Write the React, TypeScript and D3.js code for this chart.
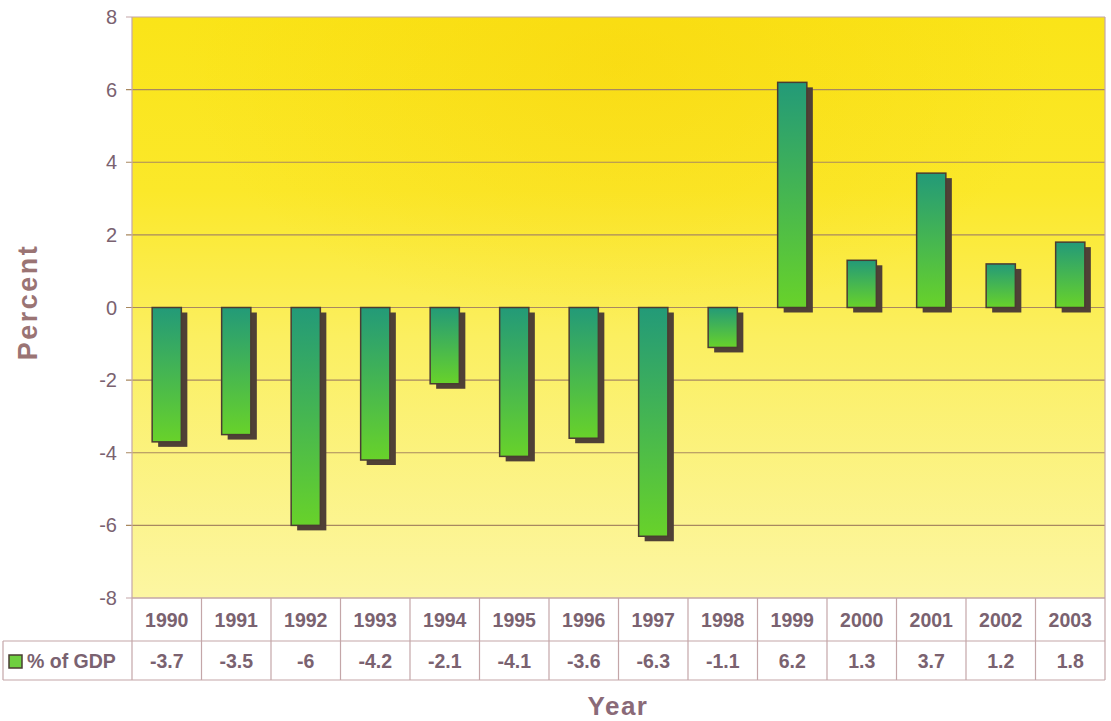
import React from "react";
import * as d3 from "d3";

const years = ["1990","1991","1992","1993","1994","1995","1996","1997","1998","1999","2000","2001","2002","2003"];
const values = [-3.7,-3.5,-6,-4.2,-2.1,-4.1,-3.6,-6.3,-1.1,6.2,1.3,3.7,1.2,1.8];
const valueLabels = ["-3.7","-3.5","-6","-4.2","-2.1","-4.1","-3.6","-6.3","-1.1","6.2","1.3","3.7","1.2","1.8"];
const yTicks = [-8,-6,-4,-2,0,2,4,6,8];
const seriesName = "% of GDP";

const W = 1111, H = 721;
const left = 132, right = 1105, top = 17, bottom = 598;
const tableRow1 = 641, tableRow2 = 680, tableLeft = 3;
const textCol = "#7a6270";
const lineCol = "#c4a6a8";
const font = "'Liberation Sans', Arial, sans-serif";

export default function App() {
  const x = d3.scaleBand<string>().domain(years).range([left, right]).paddingInner(0.58).paddingOuter(0.29);
  const xb = d3.scaleBand<string>().domain(years).range([left, right]);
  const y = d3.scaleLinear().domain([-8, 8]).range([bottom, top]);
  const sh = 5;
  return (
    <svg width={W} height={H} style={{ position: "absolute", left: 0, top: 0, background: "#fff" }}>
      <defs>
        <linearGradient id="bg" x1="0" y1="0" x2="0" y2="1">
          <stop offset="0" stopColor="#fae418" />
          <stop offset="0.3" stopColor="#fbe82a" />
          <stop offset="0.55" stopColor="#fbef60" />
          <stop offset="1" stopColor="#fcf6a2" />
        </linearGradient>
        <radialGradient id="bgr" cx="0.5" cy="0.08" r="0.45">
          <stop offset="0" stopColor="#f6c800" stopOpacity="0.3" />
          <stop offset="1" stopColor="#f6c800" stopOpacity="0" />
        </radialGradient>
        <linearGradient id="bar" x1="0" y1="0" x2="0" y2="1">
          <stop offset="0" stopColor="#239a78" />
          <stop offset="1" stopColor="#68d22a" />
        </linearGradient>
      </defs>
      <rect x={left} y={top} width={right - left} height={bottom - top} fill="url(#bg)" />
      <rect x={left} y={top} width={right - left} height={bottom - top} fill="url(#bgr)" />
      {yTicks.map((t) => (
        <g key={t}>
          <line x1={left - 6} x2={right} y1={y(t)} y2={y(t)} stroke={t === -8 || t === 8 ? lineCol : "#a88860"} strokeWidth={1.2} />
          <text x={left - 15} y={y(t)} dy="0.35em" textAnchor="end" fontFamily={font} fontSize={20} fill={textCol}>{t}</text>
        </g>
      ))}
      <line x1={left} x2={left} y1={top} y2={bottom} stroke={lineCol} strokeWidth={1.2} />
      <line x1={right} x2={right} y1={top} y2={bottom} stroke={lineCol} strokeWidth={1.2} />
      {years.map((yr, i) => {
        const v = values[i];
        const bx = x(yr)!;
        const bw = x.bandwidth();
        const y0 = y(Math.max(0, v));
        const h = Math.abs(y(v) - y(0));
        return (
          <g key={yr}>
            <rect x={bx + sh + 1} y={y0 + sh} width={bw} height={h} fill="#4f4036" />
            <rect x={bx} y={y0} width={bw} height={h} fill="url(#bar)" stroke="#4a3c32" strokeWidth={1.5} />
          </g>
        );
      })}
      {/* data table */}
      <line x1={left} x2={right} y1={bottom} y2={bottom} stroke={lineCol} strokeWidth={1.2} />
      <line x1={tableLeft} x2={right} y1={tableRow1} y2={tableRow1} stroke={lineCol} strokeWidth={1.2} />
      <line x1={tableLeft} x2={right} y1={tableRow2} y2={tableRow2} stroke={lineCol} strokeWidth={1.2} />
      <line x1={tableLeft} x2={tableLeft} y1={tableRow1} y2={tableRow2} stroke={lineCol} strokeWidth={1.2} />
      {years.map((yr) => (
        <line key={"d" + yr} x1={xb(yr)! + xb.bandwidth()} x2={xb(yr)! + xb.bandwidth()} y1={bottom} y2={tableRow2} stroke={lineCol} strokeWidth={1.2} />
      ))}
      <line x1={left} x2={left} y1={bottom} y2={tableRow2} stroke={lineCol} strokeWidth={1.2} />
      {years.map((yr, i) => (
        <g key={"t" + yr}>
          <text x={xb(yr)! + xb.bandwidth() / 2} y={(bottom + tableRow1) / 2} dy="0.36em" textAnchor="middle" fontFamily={font} fontWeight="bold" fontSize={19.5} fill={textCol}>{yr}</text>
          <text x={xb(yr)! + xb.bandwidth() / 2} y={(tableRow1 + tableRow2) / 2} dy="0.36em" textAnchor="middle" fontFamily={font} fontWeight="bold" fontSize={19.5} fill={textCol}>{valueLabels[i]}</text>
        </g>
      ))}
      <rect x={9} y={655} width={13} height={13} fill="#6fd040" stroke="#4a3c32" strokeWidth={1.5} />
      <text x={27} y={(tableRow1 + tableRow2) / 2} dy="0.36em" fontFamily={font} fontWeight="bold" fontSize={19.5} fill={textCol}>{seriesName}</text>
      <text transform={`translate(37, ${302}) rotate(-90)`} textAnchor="middle" fontFamily={font} fontWeight="bold" fontSize={27} letterSpacing={2.5} fill="#9a7474">Percent</text>
      <text x={618} y={715} textAnchor="middle" fontFamily={font} fontWeight="bold" fontSize={26} letterSpacing={1.5} fill="#8a6a78">Year</text>
    </svg>
  );
}
